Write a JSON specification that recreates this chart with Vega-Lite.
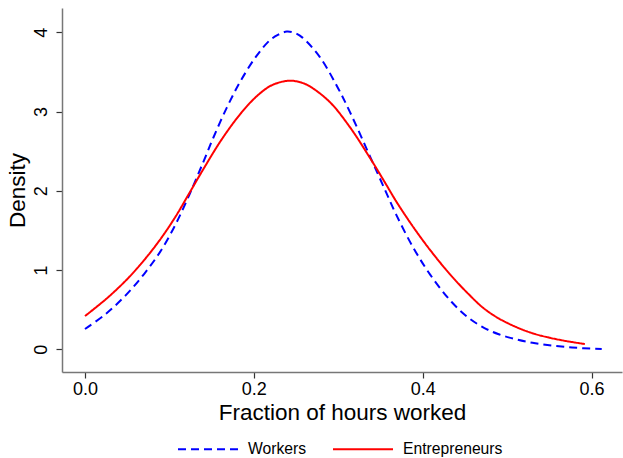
{
  "$schema": "https://vega.github.io/schema/vega-lite/v6.json",
  "width": 560,
  "height": 364,
  "autosize": "none",
  "padding": {"left": 62, "top": 8, "right": 1, "bottom": 86},
  "background": "white",
  "config": {
    "view": {"stroke": null},
    "font": "Liberation Sans",
    "axis": {
      "grid": false,
      "domainColor": "#777777",
      "domainWidth": 1.5,
      "tickColor": "#333333",
      "tickWidth": 1.2,
      "tickSize": 6,
      "labelFont": "Liberation Sans",
      "labelFontSize": 18,
      "labelColor": "#000000",
      "titleFont": "Liberation Sans",
      "titleFontSize": 22.5,
      "titleFontWeight": "normal",
      "titleColor": "#000000"
    },
    "legend": {
      "labelFont": "Liberation Sans",
      "labelFontSize": 15.7,
      "labelColor": "#000000"
    }
  },
  "data": {
    "values": [
      {"x": 0.000, "y": 0.256, "group": "Workers"},
      {"x": 0.025, "y": 0.45, "group": "Workers"},
      {"x": 0.049, "y": 0.69, "group": "Workers"},
      {"x": 0.070, "y": 0.95, "group": "Workers"},
      {"x": 0.089, "y": 1.23, "group": "Workers"},
      {"x": 0.107, "y": 1.57, "group": "Workers"},
      {"x": 0.124, "y": 1.96, "group": "Workers"},
      {"x": 0.140, "y": 2.36, "group": "Workers"},
      {"x": 0.152, "y": 2.67, "group": "Workers"},
      {"x": 0.168, "y": 3.05, "group": "Workers"},
      {"x": 0.184, "y": 3.38, "group": "Workers"},
      {"x": 0.203, "y": 3.70, "group": "Workers"},
      {"x": 0.219, "y": 3.90, "group": "Workers"},
      {"x": 0.229, "y": 3.97, "group": "Workers"},
      {"x": 0.239, "y": 4.01, "group": "Workers"},
      {"x": 0.249, "y": 3.99, "group": "Workers"},
      {"x": 0.258, "y": 3.93, "group": "Workers"},
      {"x": 0.278, "y": 3.69, "group": "Workers"},
      {"x": 0.298, "y": 3.33, "group": "Workers"},
      {"x": 0.314, "y": 2.99, "group": "Workers"},
      {"x": 0.339, "y": 2.40, "group": "Workers"},
      {"x": 0.355, "y": 2.02, "group": "Workers"},
      {"x": 0.369, "y": 1.69, "group": "Workers"},
      {"x": 0.389, "y": 1.28, "group": "Workers"},
      {"x": 0.409, "y": 0.94, "group": "Workers"},
      {"x": 0.434, "y": 0.60, "group": "Workers"},
      {"x": 0.454, "y": 0.40, "group": "Workers"},
      {"x": 0.472, "y": 0.275, "group": "Workers"},
      {"x": 0.490, "y": 0.19, "group": "Workers"},
      {"x": 0.511, "y": 0.125, "group": "Workers"},
      {"x": 0.530, "y": 0.083, "group": "Workers"},
      {"x": 0.550, "y": 0.052, "group": "Workers"},
      {"x": 0.570, "y": 0.03, "group": "Workers"},
      {"x": 0.590, "y": 0.014, "group": "Workers"},
      {"x": 0.612, "y": 0.005, "group": "Workers"},
      {"x": 0.000, "y": 0.42, "group": "Entrepreneurs"},
      {"x": 0.025, "y": 0.635, "group": "Entrepreneurs"},
      {"x": 0.049, "y": 0.875, "group": "Entrepreneurs"},
      {"x": 0.070, "y": 1.125, "group": "Entrepreneurs"},
      {"x": 0.089, "y": 1.385, "group": "Entrepreneurs"},
      {"x": 0.107, "y": 1.67, "group": "Entrepreneurs"},
      {"x": 0.123, "y": 1.96, "group": "Entrepreneurs"},
      {"x": 0.140, "y": 2.27, "group": "Entrepreneurs"},
      {"x": 0.162, "y": 2.65, "group": "Entrepreneurs"},
      {"x": 0.184, "y": 2.97, "group": "Entrepreneurs"},
      {"x": 0.203, "y": 3.19, "group": "Entrepreneurs"},
      {"x": 0.219, "y": 3.32, "group": "Entrepreneurs"},
      {"x": 0.231, "y": 3.37, "group": "Entrepreneurs"},
      {"x": 0.243, "y": 3.39, "group": "Entrepreneurs"},
      {"x": 0.255, "y": 3.37, "group": "Entrepreneurs"},
      {"x": 0.266, "y": 3.32, "group": "Entrepreneurs"},
      {"x": 0.290, "y": 3.12, "group": "Entrepreneurs"},
      {"x": 0.314, "y": 2.80, "group": "Entrepreneurs"},
      {"x": 0.339, "y": 2.39, "group": "Entrepreneurs"},
      {"x": 0.355, "y": 2.11, "group": "Entrepreneurs"},
      {"x": 0.369, "y": 1.86, "group": "Entrepreneurs"},
      {"x": 0.389, "y": 1.54, "group": "Entrepreneurs"},
      {"x": 0.409, "y": 1.25, "group": "Entrepreneurs"},
      {"x": 0.432, "y": 0.95, "group": "Entrepreneurs"},
      {"x": 0.454, "y": 0.70, "group": "Entrepreneurs"},
      {"x": 0.472, "y": 0.52, "group": "Entrepreneurs"},
      {"x": 0.490, "y": 0.39, "group": "Entrepreneurs"},
      {"x": 0.511, "y": 0.28, "group": "Entrepreneurs"},
      {"x": 0.530, "y": 0.203, "group": "Entrepreneurs"},
      {"x": 0.550, "y": 0.147, "group": "Entrepreneurs"},
      {"x": 0.570, "y": 0.104, "group": "Entrepreneurs"},
      {"x": 0.592, "y": 0.067, "group": "Entrepreneurs"}
    ]
  },
  "mark": {"type": "line", "strokeWidth": 2, "interpolate": "catmull-rom"},
  "encoding": {
    "x": {
      "field": "x",
      "type": "quantitative",
      "scale": {"domain": [-0.0272, 0.636], "nice": false, "zero": false},
      "axis": {
        "title": "Fraction of hours worked",
        "values": [0, 0.2, 0.4, 0.6],
        "format": ".1f",
        "labelPadding": 2,
        "titlePadding": 3
      }
    },
    "y": {
      "field": "y",
      "type": "quantitative",
      "scale": {"domain": [-0.286, 4.307], "nice": false, "zero": false},
      "axis": {
        "title": "Density",
        "values": [0, 1, 2, 3, 4],
        "format": "d",
        "labelAngle": 270,
        "labelAlign": "center",
        "labelBaseline": "bottom",
        "labelPadding": 6,
        "titlePadding": 3
      }
    },
    "color": {
      "field": "group",
      "type": "nominal",
      "sort": ["Workers", "Entrepreneurs"],
      "scale": {"domain": ["Workers", "Entrepreneurs"], "range": ["#0000ff", "#ff0000"]},
      "legend": {
        "title": null,
        "orient": "none",
        "legendX": 115,
        "legendY": 410,
        "direction": "horizontal",
        "symbolType": "stroke",
        "symbolSize": 3600,
        "symbolStrokeWidth": 2,
        "labelOffset": 9,
        "columnPadding": 22
      }
    },
    "strokeDash": {
      "field": "group",
      "type": "nominal",
      "sort": ["Workers", "Entrepreneurs"],
      "scale": {"domain": ["Workers", "Entrepreneurs"], "range": [[8, 5], [1, 0]]},
      "legend": null
    }
  }
}
